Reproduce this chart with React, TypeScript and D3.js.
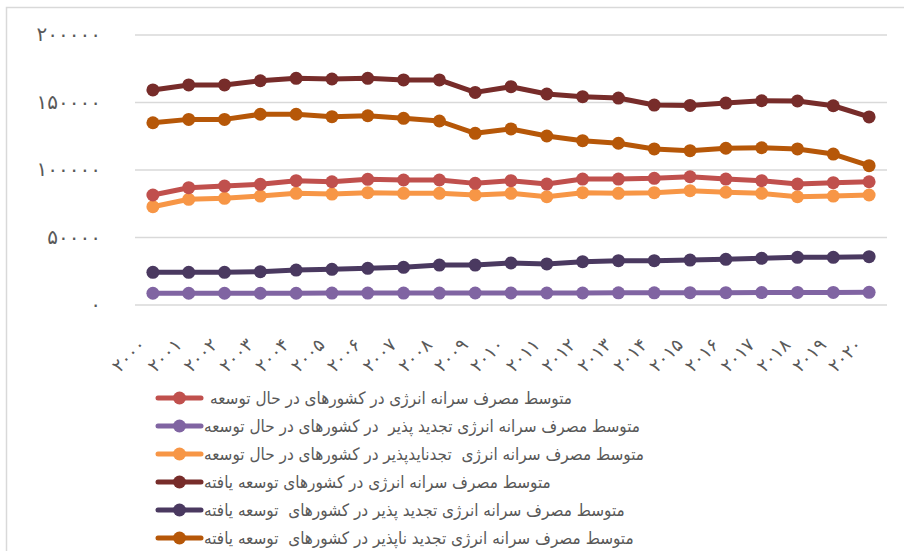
import React from 'react';
import * as d3 from 'd3';

// years on the category axis, with the Persian labels shown under them
const years = d3.range(2000, 2021);
const yearLabels = [
  '۲۰۰۰', '۲۰۰۱', '۲۰۰۲', '۲۰۰۳', '۲۰۰۴', '۲۰۰۵', '۲۰۰۶', '۲۰۰۷', '۲۰۰۸', '۲۰۰۹', '۲۰۱۰',
  '۲۰۱۱', '۲۰۱۲', '۲۰۱۳', '۲۰۱۴', '۲۰۱۵', '۲۰۱۶', '۲۰۱۷', '۲۰۱۸', '۲۰۱۹', '۲۰۲۰',
];

const yTicks = [0, 50000, 100000, 150000, 200000];
const yTickLabels = ['۰', '۵۰۰۰۰', '۱۰۰۰۰۰', '۱۵۰۰۰۰', '۲۰۰۰۰۰'];

// developing countries: total, renewable, non-renewable
const developingTotal = [
  81500, 86900, 88100, 89400, 92100, 91300, 93100, 92600, 92600, 90100, 92100,
  89600, 93300, 93300, 93800, 95000, 93300, 92100, 89600, 90600, 91300,
];
const developingRenewable = [
  8700, 8700, 8700, 8700, 8700, 8800, 8800, 8800, 8800, 8900, 8900,
  8900, 8900, 9000, 9000, 9100, 9100, 9200, 9300, 9300, 9400,
];
const developingNonRenewable = [
  72800, 78300, 79000, 80700, 82700, 82200, 83200, 82700, 82700, 81500, 82700,
  80200, 83200, 82700, 83200, 84700, 83500, 82700, 80200, 80700, 81500,
];

// developed countries: total, renewable, non-renewable
const developedTotal = [
  159300, 163000, 163000, 166100, 167900, 167400, 167900, 166700, 166700, 157500, 161700,
  156300, 154300, 153300, 148100, 147800, 149600, 151300, 151100, 147600, 139300,
];
const developedRenewable = [
  24200, 24200, 24200, 24700, 25900, 26400, 27200, 27900, 29600, 29600, 31100,
  30400, 32100, 32800, 32800, 33300, 33800, 34600, 35300, 35300, 35800,
];
const developedNonRenewable = [
  135000, 137500, 137500, 141300, 141300, 139500, 140200, 138300, 136300, 127200, 130400,
  125200, 121700, 119800, 115600, 114300, 116100, 116500, 115600, 111800, 103200,
];

const seriesNames = [
  'متوسط مصرف سرانه انرژی در کشورهای در حال توسعه',
  'متوسط مصرف سرانه انرژی تجدید پذیر  در کشورهای در حال توسعه',
  'متوسط مصرف سرانه انرژی  تجدنایدپذیر در کشورهای در حال توسعه',
  'متوسط مصرف سرانه انرژی در کشورهای توسعه یافته',
  'متوسط مصرف سرانه انرژی تجدید پذیر در کشورهای  توسعه یافته',
  'متوسط مصرف سرانه انرژی تجدید ناپذیر در کشورهای  توسعه یافته',
];
const seriesValues = [
  developingTotal, developingRenewable, developingNonRenewable,
  developedTotal, developedRenewable, developedNonRenewable,
];
const seriesColors = ['#C0504D', '#8064A2', '#F79646', '#772C2A', '#4A3960', '#B65708'];

const W = 904;
const H = 551;
const textColor = '#595959';
const gridColor = '#D9D9D9';
const font = '"Liberation Sans", "DejaVu Sans", sans-serif';
const legendFont = '"DejaVu Sans Condensed", "DejaVu Sans", sans-serif';

export default function App() {
  const x = d3.scaleBand<number>().domain(years).range([135, 887]);
  const cx = (yr: number) => (x(yr) as number) + x.bandwidth() / 2;
  const y = d3.scaleLinear().domain([0, 200000]).range([305, 35]);

  const line = d3.line<number>()
    .x((_, i) => cx(years[i]))
    .y(d => y(d));

  // draw the bottom series first so the upper ones sit on top
  const order = [1, 4, 2, 0, 5, 3];

  return (
    <svg width={W} height={H} style={{position: 'absolute', left: 0, top: 0, background: '#fff'}}
      fontFamily={font}>
      <rect x={6.5} y={7.5} width={W + 20} height={H + 20} fill="#fff" stroke={gridColor} strokeWidth={1.5} />

      {/* grid + y labels */}
      {yTicks.map((t, i) => (
        <g key={t}>
          <line x1={135} x2={887} y1={y(t)} y2={y(t)} stroke={gridColor} strokeWidth={1.5} />
          <text x={101} y={y(t) + 6} textAnchor="end" fill={textColor} fontSize={20}
            letterSpacing={7}>{yTickLabels[i]}</text>
        </g>
      ))}

      {/* x labels, rotated */}
      {years.map((yr, i) => (
        <text key={yr} transform={`translate(${cx(yr) - 6}, 346) rotate(-45)`} textAnchor="end"
          fill={textColor} fontSize={18} letterSpacing={3}>{yearLabels[i]}</text>
      ))}

      {/* series */}
      {order.map(s => (
        <g key={s}>
          <path d={line(seriesValues[s]) ?? ''} fill="none" stroke={seriesColors[s]} strokeWidth={5}
            strokeLinejoin="round" />
          {seriesValues[s].map((v, i) => (
            <circle key={i} cx={cx(years[i])} cy={y(v)} r={6.5} fill={seriesColors[s]} />
          ))}
        </g>
      ))}

      {/* legend */}
      {seriesNames.map((name, i) => {
        const ly = 398 + i * 28;
        return (
          <g key={i}>
            <line x1={158} x2={201} y1={ly} y2={ly} stroke={seriesColors[i]} strokeWidth={5} strokeLinecap="round" />
            <circle cx={179.5} cy={ly} r={6.5} fill={seriesColors[i]} />
            <text x={i === 0 ? 210 : 204} y={ly + 6} fill={textColor} fontSize={17}
              fontFamily={legendFont} style={{whiteSpace: 'pre'}}>{name}</text>
          </g>
        );
      })}
    </svg>
  );
}
